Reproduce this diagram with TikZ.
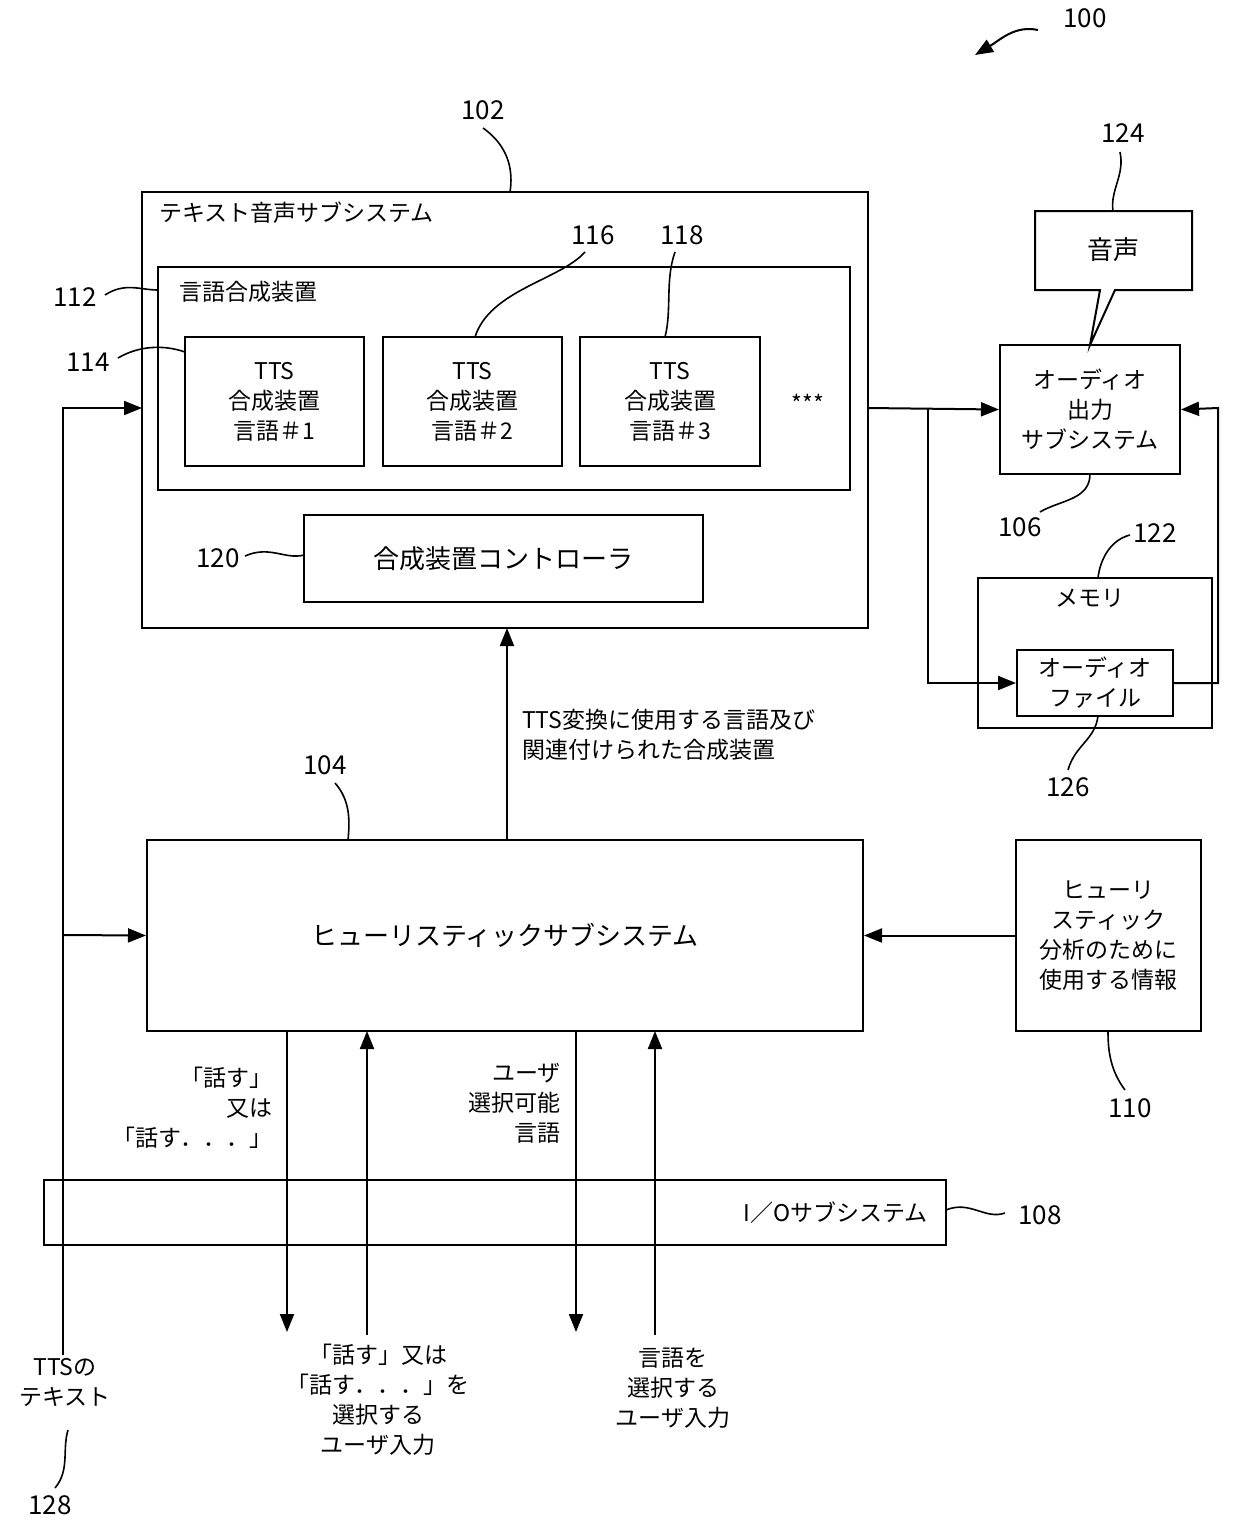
\documentclass[tikz,border=0pt]{standalone}
\usepackage{fontspec}
\setmainfont{Noto Sans CJK JP}
\usetikzlibrary{arrows.meta}
\begin{document}
\begin{tikzpicture}[x=0.5pt,y=-0.5pt,
  box/.style={draw,line width=1pt},
  lbl/.style={font=\fontsize{13}{15}\selectfont},
  txt/.style={font=\fontsize{11.5}{15}\selectfont,align=center},
  arr/.style={line width=1pt,-{Triangle[length=9pt,width=7pt]}},
  ln/.style={line width=1pt},
  lead/.style={line width=0.8pt}]
\useasboundingbox (0,0) rectangle (1244,1528);
% 100
\node[lbl] (n100) at (1085,18) {100};
\draw[arr] (1038,30) .. controls (1015,25) and (1000,40) .. (975,55);
% 102
\draw[box] (142,192) rectangle (868,628);
\node[txt,anchor=west] (t102) at (152,213) {テキスト音声サブシステム};
\node[lbl] (n102) at (483,110) {102};
\draw[lead] (483,128) .. controls (500,140) and (515,160) .. (510,192);
% 112
\draw[box] (158,267) rectangle (850,490);
\node[txt,anchor=west] (t112) at (172,292) {言語合成装置};
\node[lbl] (n112) at (75,297) {112};
\draw[lead] (105,295) .. controls (125,282) and (140,290) .. (158,290);
% TTS
\node[box,txt,minimum width=89.5pt,minimum height=64.5pt] (s1) at (274.5,401.5) {TTS\\合成装置\\言語＃1};
\node[box,txt,minimum width=89.5pt,minimum height=64.5pt] (s2) at (472.5,401.5) {TTS\\合成装置\\言語＃2};
\node[box,txt,minimum width=90pt,minimum height=64.5pt] (s3) at (670,401.5) {TTS\\合成装置\\言語＃3};
\node[txt] (dots) at (808,403) {***};
\node[lbl] (n114) at (88,362) {114};
\draw[lead] (118,358) .. controls (140,345) and (165,345) .. (185,352);
\node[lbl] (n116) at (593,235) {116};
\draw[lead] (585,252) .. controls (560,280) and (490,290) .. (475,337);
\node[lbl] (n118) at (682,235) {118};
\draw[lead] (675,252) .. controls (665,280) and (672,310) .. (665,337);
% 120
\node[box,txt,minimum width=199.5pt,minimum height=43.5pt,font=\fontsize{13}{15}\selectfont] (c120) at (503.5,558.5) {合成装置コントローラ};
\node[lbl] (n120) at (218,558) {120};
\draw[lead] (245,556) .. controls (270,545) and (285,560) .. (304,555);
% 124 bubble
\draw[box] (1035,211) -- (1192,211) -- (1192,290) -- (1115,290) -- (1090,345) -- (1100,290) -- (1035,290) -- cycle;
\node[txt,font=\fontsize{13}{15}\selectfont] (t124) at (1113,250) {音声};
\node[lbl] (n124) at (1123,133) {124};
\draw[lead] (1120,152) .. controls (1125,175) and (1110,190) .. (1113,211);
% 106
\node[box,txt,minimum width=90pt,minimum height=64.5pt] (b106) at (1090,409.5) {オーディオ\\出力\\サブシステム};
\node[lbl] (n106) at (1020,527) {106};
\draw[lead] (1040,512) .. controls (1060,500) and (1090,500) .. (1090,474);
% memory
\draw[box] (978,578) rectangle (1212,728);
\node[txt] (t122) at (1090,598) {メモリ};
\node[lbl] (n122) at (1155,533) {122};
\draw[lead] (1130,535) .. controls (1110,540) and (1100,560) .. (1098,578);
\node[box,txt,minimum width=78pt,minimum height=33pt,inner sep=0pt] (af) at (1095,683) {オーディオ\\ファイル};
\node[lbl] (n126) at (1068,787) {126};
\draw[lead] (1068,770) .. controls (1075,745) and (1095,740) .. (1098,716);
% arrows right
\coordinate (o1) at (868,408);
\coordinate (br) at (928,408);
\draw[arr] (o1) -- (b106.west);
\draw[arr] (br) -- (928,683) -- (af.west);
\draw[arr] (af.east) -- (1218,683) -- (1218,408) -- (b106.east);
% 104
\node[box,txt,minimum width=358pt,minimum height=95.5pt,font=\fontsize{13}{15}\selectfont] (h104) at (505,935.5) {ヒューリスティックサブシステム};
\node[lbl] (n104) at (325,765) {104};
\draw[lead] (335,783) .. controls (350,800) and (350,820) .. (348,840);
\draw[arr] (507,840) -- (507,628);
\node[txt,align=left,anchor=west] (tts) at (515,735) {TTS変換に使用する言語及び\\関連付けられた合成装置};
% 110
\node[box,txt,minimum width=92.5pt,minimum height=95.5pt] (b110) at (1108.5,935.5) {ヒューリ\\スティック\\分析のために\\使用する情報};
\draw[arr] (b110.west) -- (h104.east);
\node[lbl] (n110) at (1130,1108) {110};
\draw[lead] (1125,1090) .. controls (1110,1070) and (1108,1050) .. (1108,1031);
% I/O
\draw[box] (44,1180) rectangle (946,1245);
\node[txt,anchor=east] (tio) at (935,1213) {I／Oサブシステム};
\node[lbl] (n108) at (1040,1215) {108};
\draw[lead] (946,1210) .. controls (970,1200) and (985,1220) .. (1005,1213);
% left line
\coordinate (l0) at (63,1355);
\draw[arr] (l0) -- (63,408) -- (142,408);
\draw[arr] (63,935) -- (h104.west);
\node[txt] (t128) at (65,1382) {TTSの\\テキスト};
\node[lbl] (n128) at (50,1505) {128};
\draw[lead] (55,1488) .. controls (70,1470) and (62,1450) .. (68,1430);
% bottom arrows
\draw[arr] (287,1031) -- (287,1332);
\node[txt,align=right,anchor=east] (a1) at (280,1108) {「話す」\\又は\\「話す．．．」};
\draw[arr] (367,1335) -- (367,1031);
\node[txt] (a2) at (378,1400) {「話す」又は\\「話す．．．」を\\選択する\\ユーザ入力};
\draw[arr] (576,1031) -- (576,1332);
\node[txt,align=right,anchor=east] (a3) at (568,1103) {ユーザ\\選択可能\\言語};
\draw[arr] (655,1335) -- (655,1031);
\node[txt] (a4) at (673,1388) {言語を\\選択する\\ユーザ入力};
\end{tikzpicture}
\end{document}
